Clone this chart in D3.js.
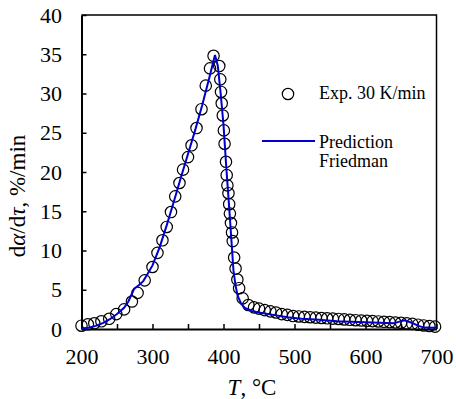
<!DOCTYPE html>
<html lang="en">
<head>
  <meta charset="UTF-8">
  <title>dα/dτ vs T</title>
  <script src="https://d3js.org/d3.v7.min.js"></script>
  <style>
    body { margin: 0; background: #fff; }
    svg text { font-family: "Liberation Serif", "DejaVu Serif", serif !important; fill: #000; }
  </style>
</head>
<body>
  <div id="chart"></div>
  <script>
    // experimental points (30 K/min)
    const expT = [200, 209, 218, 228, 239, 249, 260, 271, 279, 289, 300, 307, 314, 320, 326, 332, 338, 343, 350, 355,
      362, 369, 375, 381, 386, 394, 395.5, 396.5, 397.5, 399, 400.5, 401.5, 403.5, 404.5, 405.5, 407, 408, 409, 410.5,
      412, 413, 415, 417, 419.5, 422, 427, 435, 443, 450, 458, 466, 474, 482, 490, 498, 506, 514, 522, 530, 538, 546,
      554, 562, 570, 578, 586, 594, 602, 610, 618, 626, 634, 642, 650, 658, 666, 674, 682, 690, 698];
    const expRate = [0.42, 0.6, 0.73, 0.98, 1.3, 1.9, 2.5, 3.5, 4.6, 6.2, 7.9, 9.7, 11.3, 13.0, 14.9, 16.9, 18.6, 20.3, 21.9, 23.4,
      25.6, 28.0, 31.0, 33.2, 34.8, 33.5, 31.8, 30.2, 28.75, 27.2, 25.3, 23.6, 21.3, 19.6, 18.3, 17.3, 15.9, 14.7, 13.5,
      12.3, 11.2, 9.1, 7.7, 6.3, 5.2, 3.9, 3.06, 2.76, 2.6, 2.4, 2.25, 2.1, 1.9, 1.8, 1.65, 1.6, 1.55, 1.5, 1.45, 1.4, 1.36,
      1.32, 1.28, 1.22, 1.17, 1.12, 1.08, 1.04, 1.0, 0.96, 0.92, 0.88, 0.83, 0.78, 0.72, 0.65, 0.55, 0.45, 0.38, 0.3];

    // Friedman prediction
    const predT = [200, 210, 220, 230, 240, 250, 260, 266, 274, 281, 287, 293, 300, 310, 320, 330, 340, 350, 360, 370,
      380, 388, 392, 396, 400, 404, 408, 411, 414, 417, 420, 425, 430, 440, 450, 470, 490, 510, 530, 560, 590, 620,
      640, 650, 655, 665, 675, 682, 700];
    const predRate = [0.05, 0.15, 0.4, 0.75, 1.25, 1.9, 2.7, 3.5, 5.1, 5.6, 6.1, 7.0, 8.1, 10.4, 13.2, 16.2, 19.3, 22.3, 25.3, 28.5,
      32.0, 34.9, 33.5, 30.0, 26.0, 20.5, 15.5, 11.5, 7.5, 5.5, 4.2, 3.2, 2.7, 2.3, 2.1, 1.8, 1.5, 1.3, 1.2, 1.0, 0.9, 0.8,
      0.72, 1.0, 1.1, 0.8, 0.4, 0.18, 0.15];

    const xTicks = d3.range(200, 701, 50);
    const yTicks = d3.range(0, 41, 5);

    const width = 456, height = 399;
    const margin = { top: 15, right: 19.5, bottom: 70, left: 81.5 };

    const svg = d3.select("#chart").append("svg").attr("width", width).attr("height", height);

    const x = d3.scaleLinear().domain([200, 700]).range([margin.left, width - margin.right]);
    const y = d3.scaleLinear().domain([0, 40]).range([height - margin.bottom, margin.top]);

    // frame top/right
    svg.append("path")
      .attr("d", `M${x(200)},${y(40)}H${x(700)}V${y(0)}`)
      .attr("fill", "none").attr("stroke", "#000").attr("stroke-width", 1.5);

    const xAxis = svg.append("g")
      .attr("transform", `translate(0,${y(0)})`)
      .call(d3.axisBottom(x).tickValues(xTicks).tickSizeInner(-5).tickSizeOuter(0).tickPadding(19)
        .tickFormat(d => d % 100 === 0 ? d : ""));
    const yAxis = svg.append("g")
      .attr("transform", `translate(${x(200)},0)`)
      .call(d3.axisLeft(y).tickValues(yTicks).tickSizeInner(-5).tickSizeOuter(0).tickPadding(19.5));

    [xAxis, yAxis].forEach(g => {
      g.attr("font-family", null);
      g.select(".domain").attr("stroke-width", 2);
      g.selectAll(".tick line").attr("stroke-width", 1.5);
      g.selectAll("text").attr("font-size", 22);
    });

    // experimental circles
    svg.append("g").selectAll("circle")
      .data(expT.map((t, i) => [t, expRate[i]]))
      .join("circle")
      .attr("cx", d => x(d[0])).attr("cy", d => y(d[1])).attr("r", 5.7)
      .attr("fill", "none").attr("stroke", "#000").attr("stroke-width", 1.2);

    // prediction line
    const line = d3.line().x(d => x(d[0])).y(d => y(d[1]));
    svg.append("path")
      .datum(predT.map((t, i) => [t, predRate[i]]))
      .attr("d", line)
      .attr("fill", "none").attr("stroke", "#0000cc").attr("stroke-width", 2);

    // legend
    const leg = svg.append("g").attr("font-size", 18);
    leg.append("circle").attr("cx", 288).attr("cy", 94).attr("r", 5.7)
      .attr("fill", "none").attr("stroke", "#000").attr("stroke-width", 1.2);
    leg.append("text").attr("x", 319).attr("y", 99).text("Exp. 30 K/min");
    leg.append("line").attr("x1", 262).attr("x2", 315).attr("y1", 141).attr("y2", 141)
      .attr("stroke", "#0000cc").attr("stroke-width", 2);
    leg.append("text").attr("x", 319).attr("y", 148).text("Prediction");
    leg.append("text").attr("x", 319).attr("y", 167).text("Friedman");

    // axis titles
    const yTitle = svg.append("text")
      .attr("transform", "translate(25,196) rotate(-90)")
      .attr("text-anchor", "middle").attr("font-size", 23);
    yTitle.append("tspan").text("d");
    yTitle.append("tspan").attr("font-style", "italic").text("α");
    yTitle.append("tspan").text("/d");
    yTitle.append("tspan").attr("font-style", "italic").text("τ");
    yTitle.append("tspan").text(", %/min");

    const xTitle = svg.append("text")
      .attr("x", 252).attr("y", 395)
      .attr("text-anchor", "middle").attr("font-size", 23);
    xTitle.append("tspan").attr("font-style", "italic").text("T");
    xTitle.append("tspan").text(", °C");
  </script>
</body>
</html>
